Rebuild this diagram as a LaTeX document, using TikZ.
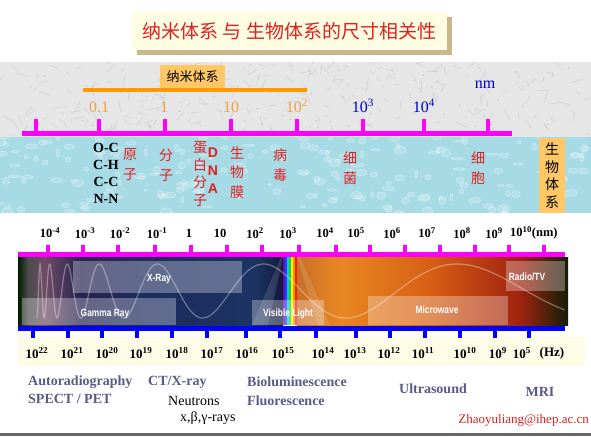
\documentclass[tikz,border=0pt]{standalone}
\usepackage{fontspec}
\setmainfont{Liberation Serif}
\setsansfont{Liberation Sans}
\newfontfamily\cjk{Noto Sans CJK SC}
\definecolor{redc}{HTML}{E02020}
\definecolor{creamc}{HTML}{FFFDE2}
\definecolor{shadowc}{HTML}{C9B98A}
\definecolor{marblec}{HTML}{E6E6E6}
\definecolor{waterc}{HTML}{A6DBE6}
\definecolor{orangec}{HTML}{FF9900}
\definecolor{oboxc}{HTML}{FFC766}
\definecolor{onumc}{HTML}{F0A040}
\definecolor{bluec}{HTML}{0000CC}
\definecolor{magc}{HTML}{FF00FF}
\definecolor{bbarc}{HTML}{0000FF}
\definecolor{bandc}{HTML}{FEFBE6}
\definecolor{slatec}{HTML}{5A5A8A}
\definecolor{navyc}{HTML}{1C2C5E}
\definecolor{rbv}{HTML}{7A00C0}
\definecolor{rbb}{HTML}{2040FF}
\definecolor{rbc}{HTML}{00C8FF}
\definecolor{rbg}{HTML}{20D020}
\definecolor{rby}{HTML}{FFF000}
\definecolor{rbo}{HTML}{FF9000}
\definecolor{rbr}{HTML}{F02000}
\newcommand{\mysup}[1]{\textsuperscript{#1}}
\begin{document}
\begin{tikzpicture}[x=1pt,y=-1pt,
  cjkred/.style={font=\cjk\fontsize{14}{20}\selectfont, text=redc, align=center, inner sep=0pt},
  rulenum/.style={font=\fontsize{16}{18}\selectfont, inner sep=0pt},
  nmnum/.style={font=\bfseries\fontsize{12.5}{14}\selectfont, inner sep=0pt},
  hznum/.style={font=\bfseries\fontsize{13}{15}\selectfont, inner sep=0pt},
  usage/.style={font=\bfseries\fontsize{14}{16}\selectfont, text=slatec, inner sep=0pt, anchor=west},
  specbox/.style={fill=white, fill opacity=0.30, draw=none},
  spectext/.style={text=white, font=\sffamily\bfseries\fontsize{10.5}{12}\selectfont, inner sep=0pt},
  magtick/.style={draw=magc, line width=4.5pt},
  bluetick/.style={draw=bbarc, line width=4.5pt}
]
\useasboundingbox (0,0) rectangle (591,436);
\fill[white] (0,0) rectangle (591,436);

% ---------- title ----------
\fill[shadowc] (137,17) rectangle (452,55);
\node[fill=creamc, minimum width=315pt, minimum height=38pt, inner sep=0pt,
      font=\cjk\fontsize{19}{22}\selectfont, text=redc] (title) at (289.5,31)
      {纳米体系 与 生物体系的尺寸相关性};

% ---------- marble band ----------
\fill[marblec] (0,62) rectangle (591,137);
\begin{scope}
\clip (0,62) rectangle (591,137);
\pgfmathsetseed{7}
\foreach \i in {1,...,260}{
  \pgfmathsetmacro\xa{rnd*591}
  \pgfmathsetmacro\ya{62+rnd*75}
  \pgfmathsetmacro\an{rnd*360}
  \pgfmathsetmacro\ln{3+rnd*9}
  \draw[gray!55, opacity=.45, line width=.6pt] (\xa,\ya) -- ++(\an:\ln);
}
\foreach \i in {1,...,60}{
  \pgfmathsetmacro\xa{rnd*591}
  \pgfmathsetmacro\ya{62+rnd*75}
  \fill[gray!70, opacity=.5] (\xa,\ya) circle[radius=0.8pt];
}
\end{scope}

% ---------- water band ----------
\fill[waterc] (0,137) rectangle (591,213);
\begin{scope}
\clip (0,137) rectangle (591,213);
\pgfmathsetseed{11}
\foreach \i in {1,...,200}{
  \pgfmathsetmacro\xa{rnd*591}
  \pgfmathsetmacro\ya{137+rnd*76}
  \pgfmathsetmacro\ra{1.5+rnd*5}
  \pgfmathsetmacro\rb{1+rnd*3}
  \draw[white, opacity=.45, line width=.5pt, fill=white, fill opacity=.15]
     (\xa,\ya) ellipse[x radius=\ra pt, y radius=\rb pt];
}
\end{scope}

% ---------- nano ruler ----------
\node[fill=oboxc, minimum width=65pt, minimum height=23pt, inner sep=0pt,
      font=\cjk\fontsize{13}{15}\selectfont] (nanobox) at (192.5,76.5) {纳米体系};
\draw[orangec, line width=4pt] (83,90) -- (307,90);
\draw[magc, line width=5pt] (22,133) -- (512,133);
\foreach \x in {36,99,165,231,297,363,424,488}
  \draw[magtick] (\x,119) -- (\x,133);
\node[rulenum, text=onumc] (r01) at (99,107) {0.1};
\node[rulenum, text=onumc] (r1) at (164,107) {1};
\node[rulenum, text=onumc] (r10) at (231,107) {10};
\node[rulenum, text=onumc] (r100) at (297,106) {10\mysup{2}};
\node[rulenum, text=bluec] (r1000) at (363,106) {10\mysup{3}};
\node[rulenum, text=bluec] (r10000) at (424,106) {10\mysup{4}};
\node[rulenum, text=bluec] (nm) at (485,85) {nm};

% ---------- labels in water ----------
\node[font=\bfseries\fontsize{14}{17}\selectfont, align=center, inner sep=0pt] (bonds) at (106,173)
   {O-C\\C-H\\C-C\\N-N};
\node[cjkred] (atom) at (130,165) {原\\子};
\node[cjkred] (mol) at (166,165) {分\\子};
\node[cjkred, font=\cjk\fontsize{14}{17.5}\selectfont] (prot) at (200,174) {蛋\\白\\分\\子};
\node[font=\sffamily\bfseries\fontsize{14}{18}\selectfont, text=redc, align=center, inner sep=0pt] (dna) at (213,171) {D\\N\\A};
\node[cjkred, font=\cjk\fontsize{14}{19.5}\selectfont] (memb) at (237,172.5) {生\\物\\膜};
\node[cjkred] (virus) at (280,165) {病\\毒};
\node[cjkred] (bact) at (350,168) {细\\菌};
\node[cjkred] (cell) at (478,168) {细\\胞};
\node[fill=oboxc, minimum width=26pt, minimum height=75pt, inner sep=0pt,
      font=\cjk\fontsize{14}{17.5}\selectfont, align=center] (bio) at (552,175.5) {生\\物\\体\\系};

% ---------- spectrum nm scale ----------
\draw[magc, line width=5pt] (18,254.5) -- (565,254.5);
\foreach \x in {48,83,118,155,191,227,262,299,336,370,405,440,475,509,544}
  \draw[magtick] (\x,245) -- (\x,254);
\node[nmnum] (n1) at (50,233) {10\mysup{-4}};
\node[nmnum] (n2) at (85,233) {10\mysup{-3}};
\node[nmnum] (n3) at (120,233) {10\mysup{-2}};
\node[nmnum] (n4) at (157,233) {10\mysup{-1}};
\node[nmnum] (n5) at (189,233) {1};
\node[nmnum] (n6) at (220,233) {10};
\node[nmnum] (n7) at (255,233) {10\mysup{2}};
\node[nmnum] (n8) at (288,233) {10\mysup{3}};
\node[nmnum] (n9) at (325,233) {10\mysup{4}};
\node[nmnum] (n10) at (356,233) {10\mysup{5}};
\node[nmnum] (n11) at (392,233) {10\mysup{6}};
\node[nmnum] (n12) at (427,233) {10\mysup{7}};
\node[nmnum] (n13) at (462,233) {10\mysup{8}};
\node[nmnum] (n14) at (494,233) {10\mysup{9}};
\node[nmnum, anchor=west] (n15) at (510,233) {10\mysup{10}(nm)};

% ---------- spectrum image ----------
\shade[left color=black!90!green, right color=black!70] (18,257) rectangle (28,325);
\shade[left color=black!70, right color={rgb,255:red,110;green,75;blue,100}] (28,257) rectangle (45,325);
\shade[left color={rgb,255:red,110;green,75;blue,100}, right color={rgb,255:red,40;green,35;blue,80}] (45,257) rectangle (80,325);
\shade[left color={rgb,255:red,40;green,35;blue,80}, right color=navyc] (80,257) rectangle (150,325);
\shade[left color=navyc, right color={rgb,255:red,28;green,52;blue,100}] (150,257) rectangle (255,325);
\shade[left color={rgb,255:red,28;green,52;blue,100}, right color={rgb,255:red,20;green,25;blue,60}] (255,257) rectangle (283,325);
\foreach \c [count=\i] in {rbv,rbb,rbc,rbg,rby,rbo,rbr}
  \fill[\c] ({281+2*\i},257) rectangle ++(2,68);
\shade[left color={rgb,255:red,200;green,110;blue,40}, right color={rgb,255:red,232;green,135;blue,35}] (297,257) rectangle (340,325);
\shade[left color={rgb,255:red,232;green,135;blue,35}, right color={rgb,255:red,215;green,95;blue,20}] (340,257) rectangle (430,325);
\shade[left color={rgb,255:red,215;green,95;blue,20}, right color={rgb,255:red,160;green,35;blue,15}] (430,257) rectangle (520,325);
\shade[left color={rgb,255:red,160;green,35;blue,15}, right color={rgb,255:red,20;green,30;blue,8}] (520,257) rectangle (568,325);
% prism beams
\fill[white, opacity=.12] (252,325) -- (281,257) -- (283,257) -- (268,325) -- cycle;
\fill[white, opacity=.12] (297,257) -- (300,257) -- (330,325) -- (318,325) -- cycle;
% wave
\begin{scope}
\clip (18,257) rectangle (568,325);
\draw[white, opacity=.35, line width=1.2pt, samples=700, domain=37:565, smooth]
  plot (\x, {291 - 27*sin(600*ln(0.6*(\x-35)+4))});
\end{scope}
% translucent boxes
\fill[specbox] (73,261) rectangle (242,293);
\fill[specbox] (22,298) rectangle (176,325);
\fill[specbox] (252,300) rectangle (324,325);
\fill[specbox] (368,296) rectangle (508,325);
\fill[specbox] (506,261) rectangle (565,291);
\node[spectext] (xray) at (159,279) {\scalebox{0.8}[1]{X-Ray}};
\node[spectext] (gamma) at (105,314) {\scalebox{0.8}[1]{Gamma Ray}};
\node[spectext] (vis) at (288,314) {\scalebox{0.8}[1]{Visible Light}};
\node[spectext] (micro) at (437,310) {\scalebox{0.8}[1]{Microwave}};
\node[spectext] (radio) at (527,277) {\scalebox{0.8}[1]{Radio/TV}};

% ---------- frequency scale ----------
\fill[bandc] (18,337) rectangle (585,366);
\draw[bbarc, line width=5pt] (18,328) -- (565,328);
\foreach \x in {33,68,102,137,172,207,246,280,316,356,390,425,460,495,529}
  \draw[bluetick] (\x,328) -- (\x,338);
\node[hznum] (h1) at (37,353) {10\mysup{22}};
\node[hznum] (h2) at (72,353) {10\mysup{21}};
\node[hznum] (h3) at (107,353) {10\mysup{20}};
\node[hznum] (h4) at (141,353) {10\mysup{19}};
\node[hznum] (h5) at (177,353) {10\mysup{18}};
\node[hznum] (h6) at (212,353) {10\mysup{17}};
\node[hznum] (h7) at (247,353) {10\mysup{16}};
\node[hznum] (h8) at (283,353) {10\mysup{15}};
\node[hznum] (h9) at (323,353) {10\mysup{14}};
\node[hznum] (h10) at (355,353) {10\mysup{13}};
\node[hznum] (h11) at (389,353) {10\mysup{12}};
\node[hznum] (h12) at (423,353) {10\mysup{11}};
\node[hznum] (h13) at (465,353) {10\mysup{10}};
\node[hznum] (h14) at (498,353) {10\mysup{9}};
\node[hznum] (h15) at (522,353) {10\mysup{5}};
\node[hznum] (hz) at (552,353) {(Hz)};

% ---------- applications ----------
\node[usage] (auto) at (28,382) {Autoradiography};
\node[usage] (spect) at (28,399) {SPECT / PET};
\node[usage] (ct) at (148,382) {CT/X-ray};
\node[font=\fontsize{14}{16}\selectfont, inner sep=0pt, anchor=west] (neut) at (168,401) {Neutrons};
\node[font=\fontsize{14}{16}\selectfont, inner sep=0pt, anchor=west] (rays) at (180,418) {x,β,γ-rays};
\node[usage] (biolum) at (247,382) {Bioluminescence};
\node[usage] (fluor) at (247,401) {Fluorescence};
\node[usage, anchor=center] (ultra) at (433,389) {Ultrasound};
\node[usage, anchor=center] (mri) at (540,392) {MRI};
\node[font=\fontsize{13}{15}\selectfont, text=redc, inner sep=0pt, anchor=east] (mail) at (589,420) {Zhaoyuliang@ihep.ac.cn};

% bottom bar
\fill[black!60] (0,433) rectangle (591,436);
\end{tikzpicture}
\end{document}
